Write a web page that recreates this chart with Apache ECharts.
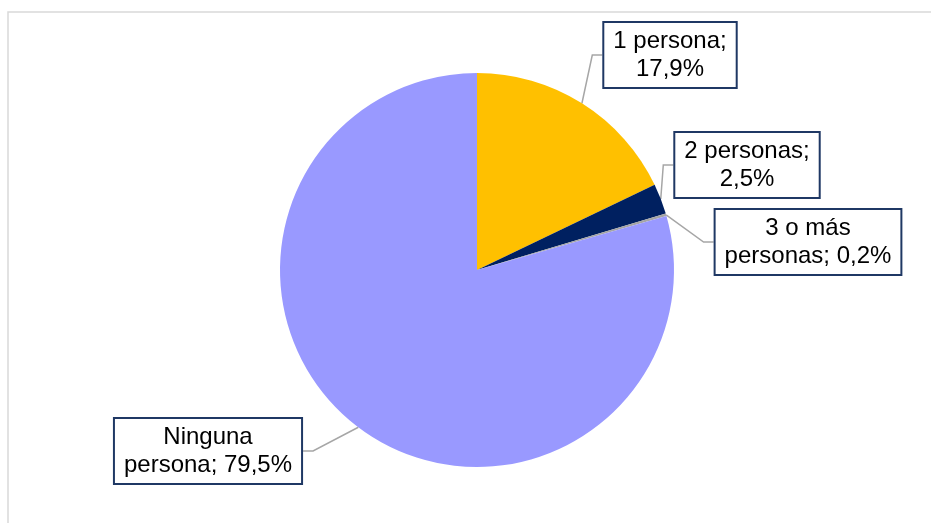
<!DOCTYPE html>
<html>
<head>
<meta charset="utf-8">
<script src="https://cdn.jsdelivr.net/npm/echarts@6/dist/echarts.min.js"></script>
<style>
  html, body { margin: 0; padding: 0; background: #fff; }
  #chart { width: 931px; height: 523px; }
</style>
</head>
<body>
<div id="chart"></div>
<script>
// categories ('\n' marks where the label wraps)
var categories = ['1 persona', '2 personas', '3 o más\npersonas', 'Ninguna\npersona'];
var values = [17.9, 2.5, 0.2, 79.5];
var colors = ['#FFC000', '#002060', '#A5A5A5', '#9999FF'];

// label box centres, pixels
var labelPos = [[670, 55], [747, 165], [808, 242], [208, 451]];

var chart = echarts.init(document.getElementById('chart'));

function pct(v) {
  return v.toFixed(1).replace('.', ',') + '%';
}

chart.setOption({
  animation: false,
  graphic: [{
    type: 'rect',
    shape: { x: 8, y: 12, width: 940, height: 540 },
    style: { fill: 'none', stroke: '#D9D9D9', lineWidth: 1.5 },
    silent: true
  }],
  series: [{
    type: 'pie',
    center: [477, 270],
    radius: 197,
    startAngle: 90,
    clockwise: true,
    avoidLabelOverlap: false,
    data: categories.map(function (c, i) {
      return { name: c, value: values[i], itemStyle: { color: colors[i] } };
    }),
    itemStyle: { borderWidth: 0 },
    emphasis: { disabled: true },
    label: {
      show: true,
      position: 'outside',
      formatter: function (p) {
        var sep = p.name.indexOf('\n') >= 0 ? '; ' : ';\n';
        return p.name + sep + pct(p.value);
      },
      fontFamily: '"Liberation Sans", Arial, sans-serif',
      fontSize: 24,
      lineHeight: 28,
      color: '#000',
      align: 'center',
      backgroundColor: '#fff',
      borderColor: '#1F3864',
      borderWidth: 2,
      padding: [4, 9]
    },
    labelLine: {
      show: true,
      length: 10,
      length2: 10,
      lineStyle: { color: '#A6A6A6', width: 1.5 }
    },
    labelLayout: function (params) {
      var p = labelPos[params.dataIndex];
      return { x: p[0], y: p[1], align: 'center', verticalAlign: 'middle' };
    }
  }]
});
</script>
</body>
</html>
